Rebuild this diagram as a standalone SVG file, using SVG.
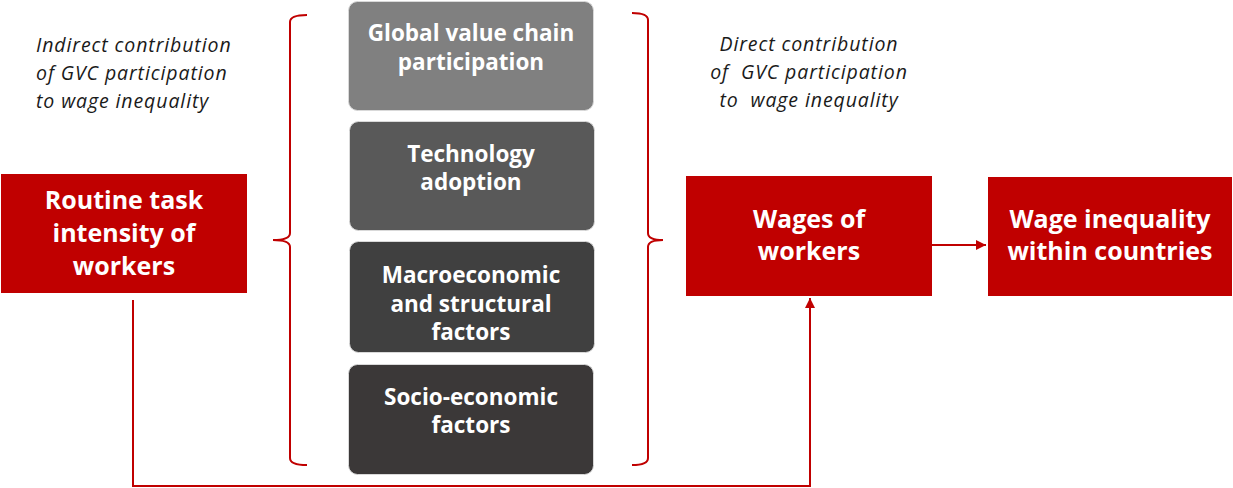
<svg xmlns="http://www.w3.org/2000/svg" width="1233" height="488" viewBox="0 0 1233 488">
<style>
  .red { fill: #c00000; }
  .gbox { stroke: #d9d9d9; stroke-width: 1; }
  .wt { font-family: "Open Sans", Lato, "Liberation Sans", sans-serif; font-weight: bold; fill: #ffffff; text-anchor: middle; }
  .big { font-size: 25px; }
  .mid { font-size: 22.5px; }
  .it { font-family: "Open Sans", "Liberation Sans", sans-serif; font-style: italic; font-size: 19.5px; letter-spacing: 0.9px; fill: #1a1a1a; white-space: pre; }
  .br { fill: none; stroke: #c00000; stroke-width: 2; }
  .conn { fill: none; stroke: #c00000; stroke-width: 2; }
</style>
<defs>
  <marker id="ah" viewBox="0 0 10 10" refX="10" refY="5" markerWidth="5" markerHeight="5" orient="auto" markerUnits="strokeWidth">
    <path d="M0,0 L10,5 L0,10 z" fill="#c00000"/>
  </marker>
</defs>
<rect width="1233" height="488" fill="#ffffff"/>

<g id="label-indirect">
  <text class="it" x="36" y="52">Indirect contribution</text>
  <text class="it" x="36" y="80">of GVC participation</text>
  <text class="it" x="36" y="108">to wage inequality</text>
</g>
<g id="label-direct">
  <text class="it" x="809" y="51" text-anchor="middle">Direct contribution</text>
  <text class="it" x="809" y="79" text-anchor="middle">of  GVC participation</text>
  <text class="it" x="809" y="107" text-anchor="middle">to  wage inequality</text>
</g>

<g id="node-routine">
  <rect class="red" x="1" y="174" width="246" height="119"/>
  <text class="wt big" x="124" y="209">Routine task</text>
  <text class="wt big" x="124" y="242">intensity of</text>
  <text class="wt big" x="124" y="275">workers</text>
</g>

<g id="node-gvc">
  <rect class="gbox" x="348.5" y="1.5" width="245" height="109" rx="9" fill="#808080"/>
  <text class="wt mid" x="471" y="41" fill="#f2f2f2">Global value chain</text>
  <text class="wt mid" x="471" y="70">participation</text>
</g>
<g id="node-tech">
  <rect class="gbox" x="349.5" y="121.5" width="245" height="109" rx="9" fill="#595959"/>
  <text class="wt mid" x="471" y="162">Technology</text>
  <text class="wt mid" x="471" y="190">adoption</text>
</g>
<g id="node-macro">
  <rect class="gbox" x="349.5" y="241.5" width="245" height="111" rx="9" fill="#404040"/>
  <text class="wt mid" x="471" y="283">Macroeconomic</text>
  <text class="wt mid" x="471" y="312">and structural</text>
  <text class="wt mid" x="471" y="340">factors</text>
</g>
<g id="node-socio">
  <rect class="gbox" x="348.5" y="364.5" width="245" height="110" rx="9" fill="#3b3838"/>
  <text class="wt mid" x="471" y="405">Socio-economic</text>
  <text class="wt mid" x="471" y="433">factors</text>
</g>

<g id="node-wages">
  <rect class="red" x="686" y="176" width="246" height="120"/>
  <text class="wt big" x="809" y="228">Wages of</text>
  <text class="wt big" x="809" y="260">workers</text>
</g>
<g id="node-inequality">
  <rect class="red" x="988" y="177" width="244" height="119"/>
  <text class="wt big" x="1110" y="228">Wage inequality</text>
  <text class="wt big" x="1110" y="260">within countries</text>
</g>

<g id="connectors">
  <path class="br" d="M307,15 Q290,15 290,22 L290,233 Q290,240 273,240 Q290,240 290,247 L290,458 Q290,465 307,465"/>
  <path class="br" d="M632,13 Q648,13 648,20 L648,233 Q648,240 663,240 Q648,240 648,247 L648,458 Q648,465 632,465"/>
  <path class="conn" d="M932,245 L986,245" marker-end="url(#ah)"/>
  <path class="conn" d="M133,300 L133,486 L810,486 L810,298" marker-end="url(#ah)"/>
</g>
</svg>
